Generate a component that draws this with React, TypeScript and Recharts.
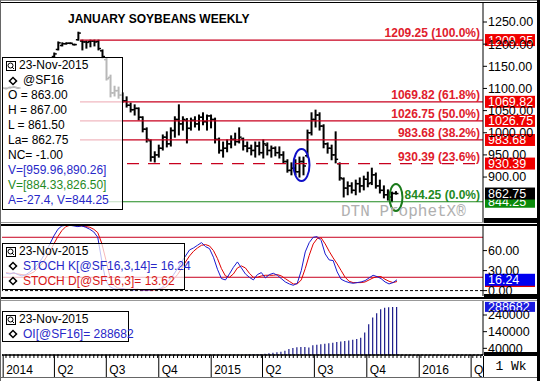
import React from 'react';
import { ComposedChart, Bar, Line, XAxis, YAxis, ReferenceLine, ReferenceDot } from 'recharts';

const FONT = 'Arial, "Liberation Sans", sans-serif';

// weekly bars, week 0 = 6-Jan-2014, week 98 = 23-Nov-2015 (null = no trade)
const priceOpen = [
  1101, 1100, 1102, 1103, 1101, null, null, null, null, null, null, null, null,
  1172, 1188, 1197, 1201, 1202, 1199, 1210, 1207, 1205, 1206, 1207, 1206, 1185, 1165,
  1125, 1090, 1095, 1085, 1072, 1062, 1052, 1055, 1035, 1008, 982, 945, 950, 965,
  990, 975, 1005, 1030, 1020, 1028, 1010, 1028, 1020, 1035, 1025, 1038, 1030, 985,
  960, 965, 975, 985, 980, 986, 970, 965, 960, 970, 955, 972, 960, 965, 955, 950,
  935, 915, 920, 912, 935, 948, 1000, 1030, 1040, 1015, 975, 965, 950, 930, 896,
  875, 880, 870, 885, 880, 895, 887, 905, 880, 870, 860, 855, 863,
];
const priceHigh = [
  1102, 1101, 1103, 1104, 1102, null, null, null, null, null, null, null, null,
  1180, 1205, 1203, 1203, 1203, 1200, 1227, 1209, 1207, 1209, 1209, 1209, 1187, 1169,
  1130, 1105, 1103, 1090, 1081, 1067, 1063, 1056, 1036, 1011, 984, 957, 972, 995,
  1002, 1011, 1036, 1063, 1036, 1032, 1033, 1036, 1040, 1045, 1040, 1040, 1033, 988,
  979, 984, 993, 999, 1011, 988, 979, 972, 979, 979, 984, 977, 970, 968, 968, 957,
  939, 932, 939, 945, 945, 1006, 1045, 1051, 1045, 1018, 977, 972, 1002, 932, 898,
  889, 887, 893, 898, 902, 911, 920, 909, 893, 880, 871, 866, 867,
];
const priceLow = [
  1100, 1099, 1101, 1102, 1100, null, null, null, null, null, null, null, null,
  1171, 1187, 1196, 1200, 1201, 1198, 1209, 1187, 1191, 1194, 1196, 1187, 1169, 1119,
  1081, 1083, 1078, 1069, 1058, 1047, 1040, 1029, 1002, 979, 936, 934, 945, 961,
  968, 970, 990, 995, 1006, 977, 1006, 1013, 1006, 1018, 1006, 1011, 977, 954,
  945, 957, 966, 972, 977, 961, 957, 950, 945, 950, 943, 950, 945, 948, 943, 932,
  911, 905, 905, 900, 905, 945, 995, 1013, 1006, 966, 954, 939, 932, 893, 855,
  860, 864, 860, 866, 871, 878, 883, 875, 864, 853, 848, 844.25, 861.5,
];
const priceClose = [
  1101, 1100, 1102, 1103, 1101, null, null, null, null, null, null, null, null,
  1178, 1203, 1201, 1202, 1202, 1199, 1225, 1205, 1204, 1207, 1205, 1190, 1172, 1122,
  1090, 1095, 1085, 1072, 1062, 1052, 1055, 1035, 1008, 985, 945, 950, 965, 990,
  975, 1005, 1030, 1020, 1030, 1010, 1028, 1020, 1035, 1025, 1038, 1030, 985, 960,
  965, 975, 985, 980, 990, 970, 965, 960, 970, 955, 975, 960, 965, 955, 950, 935,
  915, 920, 912, 935, 925, 1000, 1030, 1040, 1015, 975, 965, 950, 940, 898, 875,
  880, 870, 885, 880, 895, 885, 905, 880, 870, 860, 855, 863, 862.75,
];

const stochK = [
  26, 25, 27, 24, 22, 24, 28, 33, 40, 48, 58, 70, 82, 92, 97, 98, 98, 97, 96, 97,
  95, 92, 88, 80, 45, 15, 6, 3, 2, 3, 2, 2, 1, 2, 1, 1, 1, 2, 2, 4,
  10, 16, 24, 33, 43, 52, 61, 64, 68, 72, 66, 63, 50, 32, 18, 16, 25, 35, 43, 34,
  25, 20, 16, 24, 27, 19, 24, 26, 23, 18, 13, 10, 8, 11, 30, 58, 72, 80, 81, 75,
  55, 46, 45, 28, 17, 14, 12, 11, 12, 13, 15, 19, 23, 21, 18, 13, 10, 12, 16.24,
];
const stochD = [
  27, 26, 26, 25, 24, 23, 25, 28, 34, 40, 49, 59, 70, 81, 90, 96, 98, 98, 97, 97,
  96, 95, 92, 87, 71, 47, 22, 8, 4, 3, 2, 2, 2, 2, 1, 1, 1, 1, 2, 3,
  5, 10, 17, 24, 33, 43, 52, 59, 64, 68, 69, 67, 60, 48, 33, 22, 20, 25, 34, 37,
  34, 26, 20, 20, 22, 23, 23, 23, 24, 22, 18, 14, 10, 10, 16, 33, 53, 70, 78, 79,
  70, 59, 49, 40, 30, 20, 14, 12, 12, 12, 13, 16, 19, 21, 21, 17, 14, 12, 13.62,
];

// open interest from week 60 on (earlier weeks ~0)
const oiStart = 60;
const openInterest = [
  2000, 3000, 4000, 5000, 6000, 8000, 10000, 13000, 16000, 20000, 26000, 36000, 42000,
  46000, 48000, 48000, 45000, 58000, 62000, 65000, 68000, 71000, 74000, 78000, 81000,
  84000, 87000, 91000, 96000, 104000, 135000, 185000, 225000, 250000, 274000, 284000,
  287000, 288300, 288682,
];

const fibLevels = [1209.25, 1069.82, 1026.75, 983.68, 930.39, 844.25];
const fibPct = ['100.0%', '61.8%', '50.0%', '38.2%', '23.6%', '0.0%'];
const fibStartWk = [19.4, 19.4, 19.4, 19.4, 31.1, 26.1];
const lastClose = 862.75;

const priceTicks = [900, 950, 1000, 1050, 1100, 1150, 1200, 1250];
const stochTicks = [0, 30, 60];
const oiTicks = [40000, 140000, 240000];

const quarterTicks = [-0.71, 12.14, 25.14, 38.29, 51.43, 64.29, 77.29, 90.43, 103.57, 116.57];
const quarterLabels = ['2014', 'Q2', 'Q3', 'Q4', '2015', 'Q2', 'Q3', 'Q4', '2016', 'Q2'];

const priceData = priceHigh
  .map((h, i) =>
    h == null
      ? null
      : { wk: i, range: [priceLow[i], h], open: priceOpen[i], high: h, low: priceLow[i], close: priceClose[i] }
  )
  .filter(Boolean) as any[];
const stochData = stochK.map((k, i) => ({ wk: i, k, d: stochD[i] }));
const oiData = openInterest.map((v, i) => ({ wk: oiStart + i, oi: v }));
const weekTicks = Array.from({ length: 120 }, (_, i) => i);
const xTicks = [...quarterTicks, ...weekTicks];

const RED = '#c8001e';
const LABEL_RED = '#e0202c';
const GREEN = '#1f8a1f';

const OhlcBar = (props: any) => {
  const { x, y, width, height, payload } = props;
  const top = Math.min(y, y + height);
  const bot = Math.max(y, y + height);
  const cx = x + width / 2;
  const span = payload.high - payload.low;
  const toY = (v: number) => (span === 0 ? top : top + ((payload.high - v) / span) * (bot - top));
  return (
    <g stroke="#000">
      <line x1={cx} x2={cx} y1={top - 0.5} y2={bot + 0.5} strokeWidth={2} />
      <line x1={cx - 2.5} x2={cx} y1={toY(payload.open)} y2={toY(payload.open)} strokeWidth={1.5} />
      <line x1={cx} x2={cx + 2.5} y1={toY(payload.close)} y2={toY(payload.close)} strokeWidth={1.5} />
    </g>
  );
};

const Tag = ({ y, text, bg, h = 12 }: any) => (
  <g>
    <rect x={485} y={y - h / 2} width={50} height={h} fill={bg} />
    <text x={488} y={y + 4.5} fill="#fff" fontSize={12.5} fontFamily={FONT}>{text}</text>
  </g>
);

const fibLabel = (i: number) => (p: any) => {
  const vb = p.viewBox;
  const right = vb.x + vb.width;
  const col = i === fibLevels.length - 1 ? GREEN : LABEL_RED;
  const tag = i === fibLevels.length - 1 ? '#0a8a0a' : '#f00000';
  return (
    <g>
      <text x={right - 3} y={vb.y - 3} textAnchor="end" fill={col} fontSize={12} fontWeight="bold" fontFamily={FONT}>
        {fibLevels[i].toFixed(2)} ({fibPct[i]})
      </text>
      <Tag y={vb.y} text={fibLevels[i].toFixed(2)} bg={tag} />
    </g>
  );
};

const tagLabel = (text: string, bg: string, h = 12) => (p: any) => <Tag y={p.viewBox.y} text={text} bg={bg} h={h} />;

const Ellipse = (rx: number, ry: number, color: string) => (p: any) => (
  <ellipse cx={p.cx} cy={p.cy} rx={rx} ry={ry} fill="none" stroke={color} strokeWidth={2} />
);

const QuarterTick = (props: any) => {
  const { x, y, payload } = props;
  const qi = quarterTicks.indexOf(payload.value);
  if (qi >= 0) {
    return (
      <g>
        <line x1={x} x2={x} y1={y} y2={y + 22} stroke="#000" />
        <text x={x + 3} y={y + 19} fontSize={12} fontFamily={FONT} fill="#000">{quarterLabels[qi]}</text>
      </g>
    );
  }
  return <line x1={x} x2={x} y1={y} y2={y + 3} stroke="#000" />;
};

const axisTick = { fontSize: 12.5, fill: '#000', fontFamily: FONT };

const MagIcon = () => (
  <svg width={10} height={10} style={{ position: 'absolute', left: 3, top: 3 }}>
    <rect x={0.5} y={0.5} width={9} height={9} fill="none" stroke="#000" />
    <circle cx={4.5} cy={4.5} r={2.5} fill="none" stroke="#000" />
    <line x1={6} y1={6} x2={8} y2={8} stroke="#000" />
  </svg>
);
const Diamond = ({ top }: { top: number }) => (
  <svg width={10} height={10} style={{ position: 'absolute', left: 5, top }}>
    <rect x={2.5} y={2.5} width={5} height={5} fill="none" stroke="#000" strokeWidth={1.5} transform="rotate(45 5 5)" />
  </svg>
);

const boxStyle: React.CSSProperties = {
  position: 'absolute',
  border: '1px solid #000',
  background: 'rgba(255,255,255,0.72)',
  fontFamily: FONT,
  fontSize: 12,
  lineHeight: '15px',
  boxSizing: 'border-box',
  whiteSpace: 'nowrap',
};

const priceDomain = [798.5, 1292.9];
const priceX = [0, 119.65];
const lowerX = [-1.0, 119.55];

export default function App() {
  return (
    <div style={{ position: 'absolute', left: 0, top: 0, width: 540, height: 381, background: '#fff', overflow: 'hidden' }}>
      {/* price panel */}
      <div style={{ position: 'absolute', left: 0, top: 0 }}>
        <ComposedChart width={540} height={224} data={priceData} margin={{ top: 3, right: 0, bottom: 2, left: 2 }}>
          <XAxis dataKey="wk" type="number" domain={priceX} allowDataOverflow hide />
          <YAxis
            orientation="right"
            width={57}
            domain={priceDomain}
            allowDataOverflow
            ticks={priceTicks}
            interval={0}
            tickFormatter={(v) => v.toFixed(2)}
            tick={axisTick}
            tickSize={4}
            tickMargin={1}
            axisLine={{ stroke: '#000' }}
            tickLine={{ stroke: '#000' }}
          />
          {fibLevels.map((lv, i) => (
            <ReferenceLine
              key={lv}
              segment={[{ x: fibStartWk[i], y: lv }, { x: priceX[1], y: lv }]}
              stroke={i === fibLevels.length - 1 ? GREEN : RED}
              strokeDasharray={i === 4 ? '12 9' : undefined}
              strokeWidth={1.2}
              label={fibLabel(i)}
            />
          ))}
          <ReferenceLine y={lastClose} stroke="none" label={tagLabel(lastClose.toFixed(2), '#000')} />
          <Bar dataKey="range" barSize={4} shape={OhlcBar} isAnimationActive={false} />
          <ReferenceDot x={74.5} y={927} r={1} shape={Ellipse(8, 16, '#1010c8')} />
          <ReferenceDot x={98} y={854} r={1} shape={Ellipse(6.5, 13.5, '#1a7a1a')} />
        </ComposedChart>
      </div>
      <div style={{ position: 'absolute', left: 68, top: 12, fontFamily: FONT, fontSize: 12, fontWeight: 'bold' }}>
        JANUARY SOYBEANS WEEKLY
      </div>
      <div style={{ position: 'absolute', left: 341, top: 203, fontFamily: '"Liberation Mono", "Courier New", monospace', fontSize: 16, color: '#b0b0b0' }}>
        DTN ProphetX®
      </div>
      <div style={{ ...boxStyle, left: 2, top: 57, width: 121, height: 153 }}>
        <MagIcon />
        <div style={{ position: 'absolute', left: 16, top: 0 }}>23-Nov-2015</div>
        <Diamond top={18} />
        <div style={{ position: 'absolute', left: 20, top: 15 }}>@SF16</div>
        <div style={{ position: 'absolute', left: 5, top: 30 }}>O = 863.00</div>
        <div style={{ position: 'absolute', left: 5, top: 45 }}>H = 867.00</div>
        <div style={{ position: 'absolute', left: 5, top: 60 }}>L = 861.50</div>
        <div style={{ position: 'absolute', left: 5, top: 75 }}>La= 862.75</div>
        <div style={{ position: 'absolute', left: 5, top: 90 }}>NC= -1.00</div>
        <div style={{ position: 'absolute', left: 5, top: 105, color: '#2828c8' }}>V=[959.96,890.26]</div>
        <div style={{ position: 'absolute', left: 5, top: 120, color: '#1f8a1f' }}>V=[884.33,826.50]</div>
        <div style={{ position: 'absolute', left: 5, top: 135, color: '#2828c8' }}>A=-27.4, V=844.25</div>
      </div>

      {/* stochastic panel */}
      <div style={{ position: 'absolute', left: 0, top: 224 }}>
        <ComposedChart width={540} height={74} data={stochData} margin={{ top: 2, right: 0, bottom: 2, left: 2 }}>
          <XAxis dataKey="wk" type="number" domain={lowerX} allowDataOverflow hide />
          <YAxis
            orientation="right"
            width={57}
            domain={[-8.1, 96.9]}
            allowDataOverflow
            ticks={stochTicks}
            interval={0}
            tickFormatter={(v) => v.toFixed(2)}
            tick={axisTick}
            tickSize={4}
            tickMargin={1}
            axisLine={{ stroke: '#000' }}
            tickLine={{ stroke: '#000' }}
          />
          <ReferenceLine y={80} stroke={RED} />
          <ReferenceLine y={20} stroke={RED} />
          <ReferenceLine y={0} stroke="#000" strokeDasharray="3 2" />
          <Line dataKey="d" stroke="#e00000" dot={false} strokeWidth={1} isAnimationActive={false} />
          <Line dataKey="k" stroke="#1a1ad0" dot={false} strokeWidth={1} isAnimationActive={false} />
          <ReferenceLine y={13.62} stroke="none" label={tagLabel('', '#e00000', 11)} />
          <ReferenceLine y={16.24} stroke="none" label={tagLabel('16.24', '#0000f0', 12)} />
        </ComposedChart>
      </div>
      <div style={{ ...boxStyle, left: 2, top: 243, width: 183, height: 47 }}>
        <MagIcon />
        <div style={{ position: 'absolute', left: 16, top: -0.5 }}>23-Nov-2015</div>
        <Diamond top={17} />
        <div style={{ position: 'absolute', left: 20, top: 14.5, color: '#2828c8' }}>STOCH K[@SF16,3,14]= 16.24</div>
        <Diamond top={32} />
        <div style={{ position: 'absolute', left: 20, top: 29.5, color: '#d81818' }}>STOCH D[@SF16,3]= 13.62</div>
      </div>

      {/* open interest panel + time axis */}
      <div style={{ position: 'absolute', left: 0, top: 298 }}>
        <ComposedChart width={540} height={83} data={oiData} margin={{ top: 2, right: 0, bottom: 0, left: 2 }}>
          <XAxis
            dataKey="wk"
            type="number"
            domain={lowerX}
            allowDataOverflow
            ticks={xTicks}
            interval={0}
            height={26}
            tick={QuarterTick}
            tickLine={false}
            tickSize={0}
            tickMargin={0}
            axisLine={{ stroke: '#000', strokeWidth: 1.5 }}
          />
          <YAxis
            orientation="right"
            width={57}
            domain={[0, 330000]}
            allowDataOverflow
            ticks={oiTicks}
            interval={0}
            tick={axisTick}
            tickSize={4}
            tickMargin={1}
            axisLine={{ stroke: '#000' }}
            tickLine={{ stroke: '#000' }}
          />
          <ReferenceLine y={0} stroke="#000" strokeDasharray="2 2" />
          <Bar dataKey="oi" fill="#1a1a8a" barSize={1.2} isAnimationActive={false} />
          <ReferenceLine y={288682} stroke="none" label={tagLabel('288682', '#1a1ae0', 10)} />
        </ComposedChart>
      </div>
      <div style={{ ...boxStyle, left: 2, top: 311, width: 127, height: 31 }}>
        <MagIcon />
        <div style={{ position: 'absolute', left: 16, top: -0.5 }}>23-Nov-2015</div>
        <Diamond top={17} />
        <div style={{ position: 'absolute', left: 20, top: 14.5, color: '#2828c8' }}>OI[@SF16]= 288682</div>
      </div>

      {/* frame lines */}
      <div style={{ position: 'absolute', left: 0, top: 222, width: 537, height: 1, background: '#999' }} />
      <div style={{ position: 'absolute', left: 0, top: 224, width: 537, height: 2, background: '#000' }} />
      <div style={{ position: 'absolute', left: 484, top: 218, width: 53, height: 5, background: '#000' }} />
      <div style={{ position: 'absolute', left: 0, top: 297, width: 537, height: 2, background: '#000' }} />
      <div style={{ position: 'absolute', left: 0, top: 299.5, width: 537, height: 1, background: '#999' }} />
      <div style={{ position: 'absolute', left: 484, top: 294, width: 53, height: 4, background: '#000' }} />
      <div style={{ position: 'absolute', left: 484, top: 352, width: 53, height: 4, background: '#000' }} />
      <div
        style={{
          position: 'absolute', left: 483, top: 356, width: 54, height: 21, background: '#fff',
          borderLeft: '1px solid #000', fontFamily: '"Liberation Mono", "Courier New", monospace', fontSize: 13,
          textAlign: 'center', lineHeight: '21px',
        }}
      >
        1 Wk
      </div>
      <div style={{ position: 'absolute', left: 0, top: 377, width: 540, height: 1, background: '#666' }} />
      <div style={{ position: 'absolute', left: 0, top: 0, width: 540, height: 1, background: '#888' }} />
      <div style={{ position: 'absolute', left: 0, top: 2, width: 537, height: 1, background: '#000' }} />
      <div style={{ position: 'absolute', left: 0, top: 0, width: 1, height: 381, background: '#666' }} />
      <div style={{ position: 'absolute', left: 537, top: 0, width: 3, height: 381, background: '#000' }} />
    </div>
  );
}
